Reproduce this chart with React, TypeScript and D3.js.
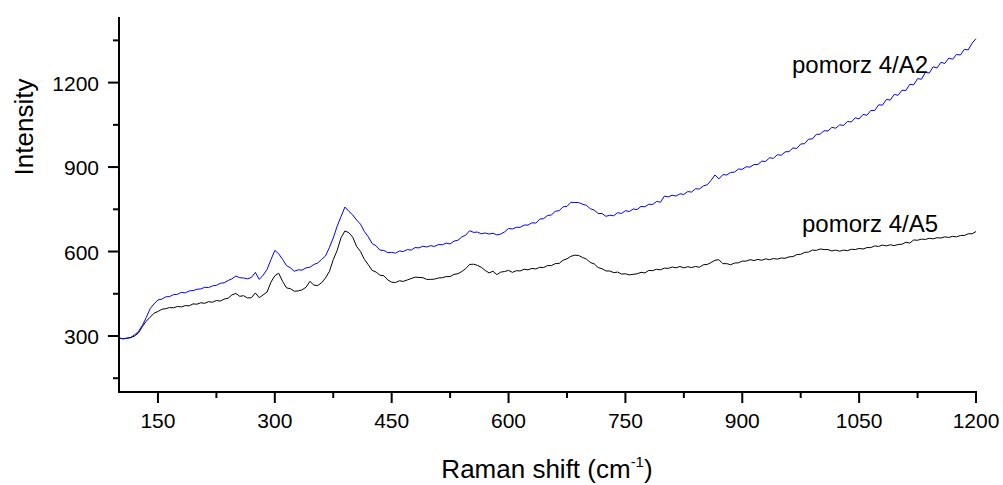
import React from "react";
import * as d3 from "d3";

// Raman shift sampling grid (cm-1)
const ramanShift: number[] = d3.range(100, 1201, 5);

// pomorz 4/A2 (blue)
const intensityA2: number[] = [
  293, 290, 292, 295, 304, 316, 338, 366, 397, 414,
  428, 431, 439, 440, 447, 448, 455, 453, 460, 461,
  466, 467, 473, 472, 478, 480, 487, 489, 497, 503,
  513, 507, 506, 503, 508, 526, 501, 516, 536, 571,
  604, 592, 572, 550, 542, 530, 535, 534, 542, 544,
  554, 559, 572, 584, 614, 648, 690, 724, 758, 743,
  730, 712, 697, 671, 652, 628, 620, 605, 604, 596,
  597, 594, 602, 600, 607, 605, 614, 613, 619, 616,
  621, 618, 625, 624, 630, 627, 637, 640, 652, 658,
  674, 668, 669, 663, 666, 662, 665, 659, 662, 670,
  682, 680, 686, 686, 694, 694, 702, 701, 715, 717,
  728, 730, 743, 745, 759, 760, 775, 774, 774, 768,
  764, 752, 747, 735, 735, 725, 729, 727, 738, 735,
  745, 742, 751, 749, 760, 759, 768, 767, 778, 775,
  797, 794, 800, 797, 805, 803, 813, 811, 823, 822,
  833, 837, 853, 872, 858, 873, 872, 881, 882, 893,
  892, 901, 900, 909, 909, 921, 920, 933, 931, 944,
  942, 954, 955, 968, 966, 982, 983, 999, 1000, 1016,
  1017, 1029, 1028, 1041, 1038, 1050, 1048, 1062, 1060, 1075,
  1071, 1087, 1084, 1101, 1101, 1121, 1120, 1140, 1138, 1158,
  1155, 1173, 1172, 1194, 1192, 1214, 1212, 1236, 1234, 1256,
  1252, 1272, 1268, 1287, 1283, 1300, 1298, 1318, 1316, 1340,
  1356,
];

// pomorz 4/A5 (black)
const intensityA5: number[] = [
  293, 290, 292, 294, 300, 311, 333, 353, 367, 381,
  387, 395, 397, 401, 400, 405, 403, 408, 407, 414,
  413, 418, 416, 422, 420, 426, 424, 431, 434, 446,
  451, 441, 443, 435, 436, 453, 436, 446, 456, 491,
  514, 523, 494, 471, 468, 459, 460, 464, 473, 494,
  481, 479, 489, 506, 529, 571, 604, 649, 673, 667,
  651, 618, 600, 572, 553, 533, 527, 516, 514, 499,
  491, 490, 496, 494, 499, 504, 509, 508, 507, 501,
  501, 502, 506, 507, 511, 511, 519, 521, 529, 539,
  554, 555, 551, 544, 533, 524, 530, 518, 527, 529,
  533, 526, 532, 531, 537, 535, 540, 538, 544, 543,
  550, 550, 557, 558, 569, 574, 583, 587, 586, 579,
  573, 561, 556, 543, 539, 531, 531, 525, 527, 520,
  521, 517, 519, 521, 526, 524, 533, 532, 537, 535,
  541, 540, 545, 542, 547, 542, 546, 543, 547, 544,
  553, 554, 561, 569, 571, 557, 557, 553, 559, 560,
  566, 566, 571, 568, 572, 569, 574, 571, 575, 573,
  577, 576, 581, 582, 589, 590, 597, 598, 605, 604,
  609, 607, 607, 602, 605, 601, 605, 603, 608, 607,
  611, 609, 614, 614, 620, 618, 623, 620, 624, 621,
  625, 626, 633, 630, 641, 640, 644, 643, 647, 645,
  649, 648, 652, 650, 654, 652, 657, 657, 663, 663,
  671,
];

const xMajorTicks = [150, 300, 450, 600, 750, 900, 1050, 1200];
const xMinorTicks = [225, 375, 525, 675, 825, 975, 1125];
const yMajorTicks = [300, 600, 900, 1200];
const yMinorTicks = [150, 450, 750, 1050, 1350];

const seriesNames = ["pomorz 4/A2", "pomorz 4/A5"];

const FONT = "'Liberation Sans', Arial, Helvetica, sans-serif";

export default function App() {
  const W = 1003;
  const H = 485;
  const x = d3.scaleLinear().domain([100, 1200]).range([119, 976]);
  const y = d3.scaleLinear().domain([100, 1433]).range([392.3, 17]);
  const x0 = 119;
  const y0 = 392;

  const mk = (vals: number[]) =>
    d3
      .line<number>()
      .x((_, i) => x(ramanShift[i]))
      .y((v) => y(v))(vals) || "";

  return (
    <svg
      width={W}
      height={H}
      style={{ position: "absolute", left: 0, top: 0, background: "#fff" }}
      fontFamily={FONT}
    >
      <rect width={W} height={H} fill="#fff" />
      <path d={mk(intensityA5)} fill="none" stroke="#000" strokeWidth={1} />
      <path d={mk(intensityA2)} fill="none" stroke="#0000ff" strokeWidth={1} />

      {/* axes */}
      <line x1={x0} y1={17} x2={x0} y2={y0 + 1} stroke="#000" strokeWidth={2} />
      <line x1={x0 - 1} y1={y0} x2={977} y2={y0} stroke="#000" strokeWidth={2} />

      {xMajorTicks.map((t) => (
        <g key={"xM" + t}>
          <line x1={x(t)} x2={x(t)} y1={y0} y2={y0 + 11} stroke="#000" strokeWidth={2} />
          <text x={x(t)} y={428} textAnchor="middle" fontSize={21} fill="#000">
            {t}
          </text>
        </g>
      ))}
      {xMinorTicks.map((t) => (
        <line key={"xm" + t} x1={x(t)} x2={x(t)} y1={y0} y2={y0 + 6} stroke="#000" strokeWidth={2} />
      ))}
      {yMajorTicks.map((t) => (
        <g key={"yM" + t}>
          <line x1={x0 - 11} x2={x0} y1={y(t)} y2={y(t)} stroke="#000" strokeWidth={2} />
          <text x={99} y={y(t) + 8} textAnchor="end" fontSize={21} fill="#000">
            {t}
          </text>
        </g>
      ))}
      {yMinorTicks.map((t) => (
        <line key={"ym" + t} x1={x0 - 6} x2={x0} y1={y(t)} y2={y(t)} stroke="#000" strokeWidth={2} />
      ))}

      {/* axis titles */}
      <text x={547} y={478} textAnchor="middle" fontSize={26} fill="#000">
        Raman shift (cm
        <tspan fontSize={15} dy={-11}>-1</tspan>
        <tspan dy={11}>)</tspan>
      </text>
      <text
        transform="translate(33,127) rotate(-90)"
        textAnchor="middle"
        fontSize={26}
        fill="#000"
      >
        Intensity
      </text>

      {/* series labels */}
      <text x={792} y={73} fontSize={24} fill="#000">
        {seriesNames[0]}
      </text>
      <text x={802} y={232} fontSize={24} fill="#000">
        {seriesNames[1]}
      </text>
    </svg>
  );
}
